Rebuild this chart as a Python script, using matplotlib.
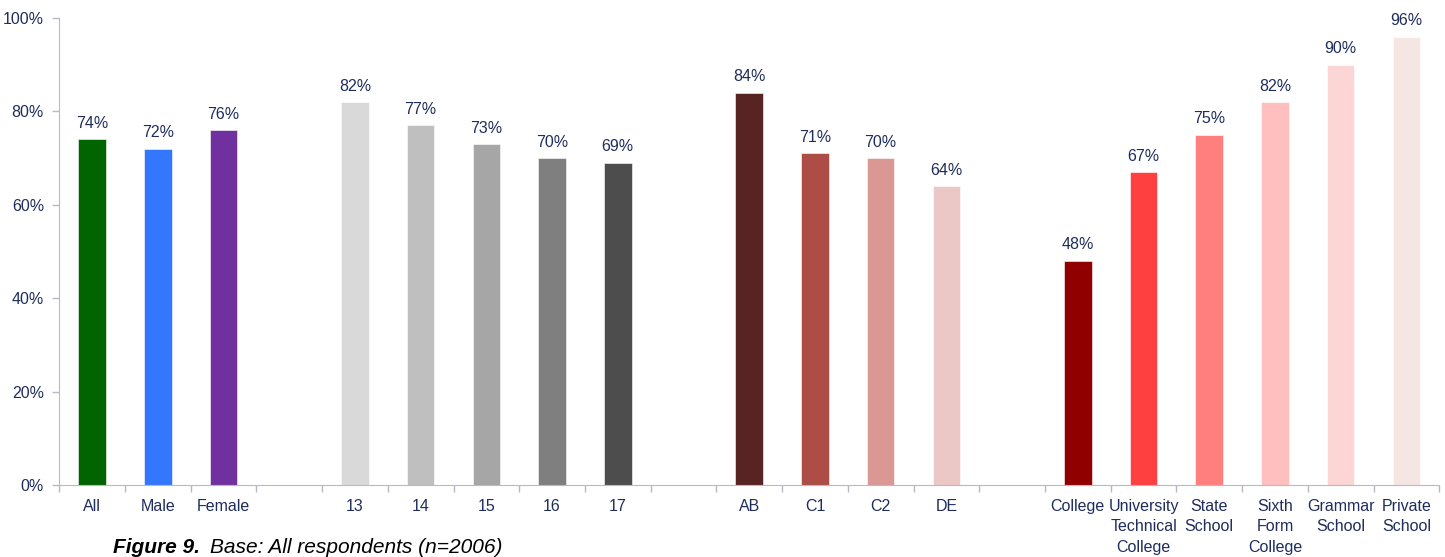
import matplotlib.pyplot as plt
from matplotlib import font_manager

# chart data (empty strings = spacer slots between groups)
labels = ['All', 'Male', 'Female', '',
          '13', '14', '15', '16', '17', '',
          'AB', 'C1', 'C2', 'DE', '',
          'College', 'University\nTechnical\nCollege', 'State\nSchool',
          'Sixth\nForm\nCollege', 'Grammar\nSchool', 'Private\nSchool']
values = [74, 72, 76, None,
          82, 77, 73, 70, 69, None,
          84, 71, 70, 64, None,
          48, 67, 75, 82, 90, 96]
colors = ['#006400', '#3377FF', '#7030A0', None,
          '#D9D9D9', '#BFBFBF', '#A6A6A6', '#7F7F7F', '#4D4D4D', None,
          '#582323', '#AD4D46', '#D99893', '#EBC8C5', None,
          '#910000', '#FF4040', '#FF7F7F', '#FFBFBF', '#FCD5D5', '#F5E6E3']
yticks = [0, 20, 40, 60, 80, 100]

names = [f.name for f in font_manager.fontManager.ttflist]
fam = 'Liberation Sans Narrow' if 'Liberation Sans Narrow' in names else 'Liberation Sans'
plt.rcParams['font.family'] = [fam, 'DejaVu Sans']

navy = '#1F2D5C'
axis_col = '#B8B8C8'

fig = plt.figure(figsize=(14.45, 5.57), dpi=100)
ax = fig.add_axes([0.041, 0.129, 0.955, 0.839])

for i, (v, c) in enumerate(zip(values, colors)):
    if v is None:
        continue
    ax.bar(i, v, width=0.42, color=c, edgecolor='white', linewidth=0.4)
    ax.text(i, v + 1.8, f'{v}%', ha='center', va='bottom', fontsize=11.5, color=navy)

ax.set_xlim(-0.5, len(labels) - 0.5)
ax.set_ylim(0, 100)
ax.set_yticks(yticks)
ax.set_yticklabels([f'{t}%' for t in yticks], fontsize=11.5, color=navy)

ax.set_xticks(range(len(labels)))
ax.set_xticklabels(labels, fontsize=11.5, color=navy, linespacing=1.45)
ax.tick_params(axis='x', length=0, pad=10)
ax.set_xticks([i - 0.5 for i in range(len(labels) + 1)], minor=True)
ax.tick_params(axis='x', which='minor', length=5, color=axis_col, width=1)
ax.tick_params(axis='y', length=5, color=axis_col, width=1, pad=6)

for s in ['top', 'right']:
    ax.spines[s].set_visible(False)
ax.spines['left'].set_color(axis_col)
ax.spines['bottom'].set_color(axis_col)

fig.text(0.078, 0.0075, 'Figure 9.', fontsize=15, fontweight='bold', style='italic',
         family=['Liberation Sans', 'DejaVu Sans'], va='baseline')
fig.text(0.145, 0.0075, 'Base: All respondents (n=2006)', fontsize=15, style='italic',
         family=['Liberation Sans Narrow', 'Liberation Sans', 'DejaVu Sans'], va='baseline')

fig.savefig('out.png', dpi=100)
